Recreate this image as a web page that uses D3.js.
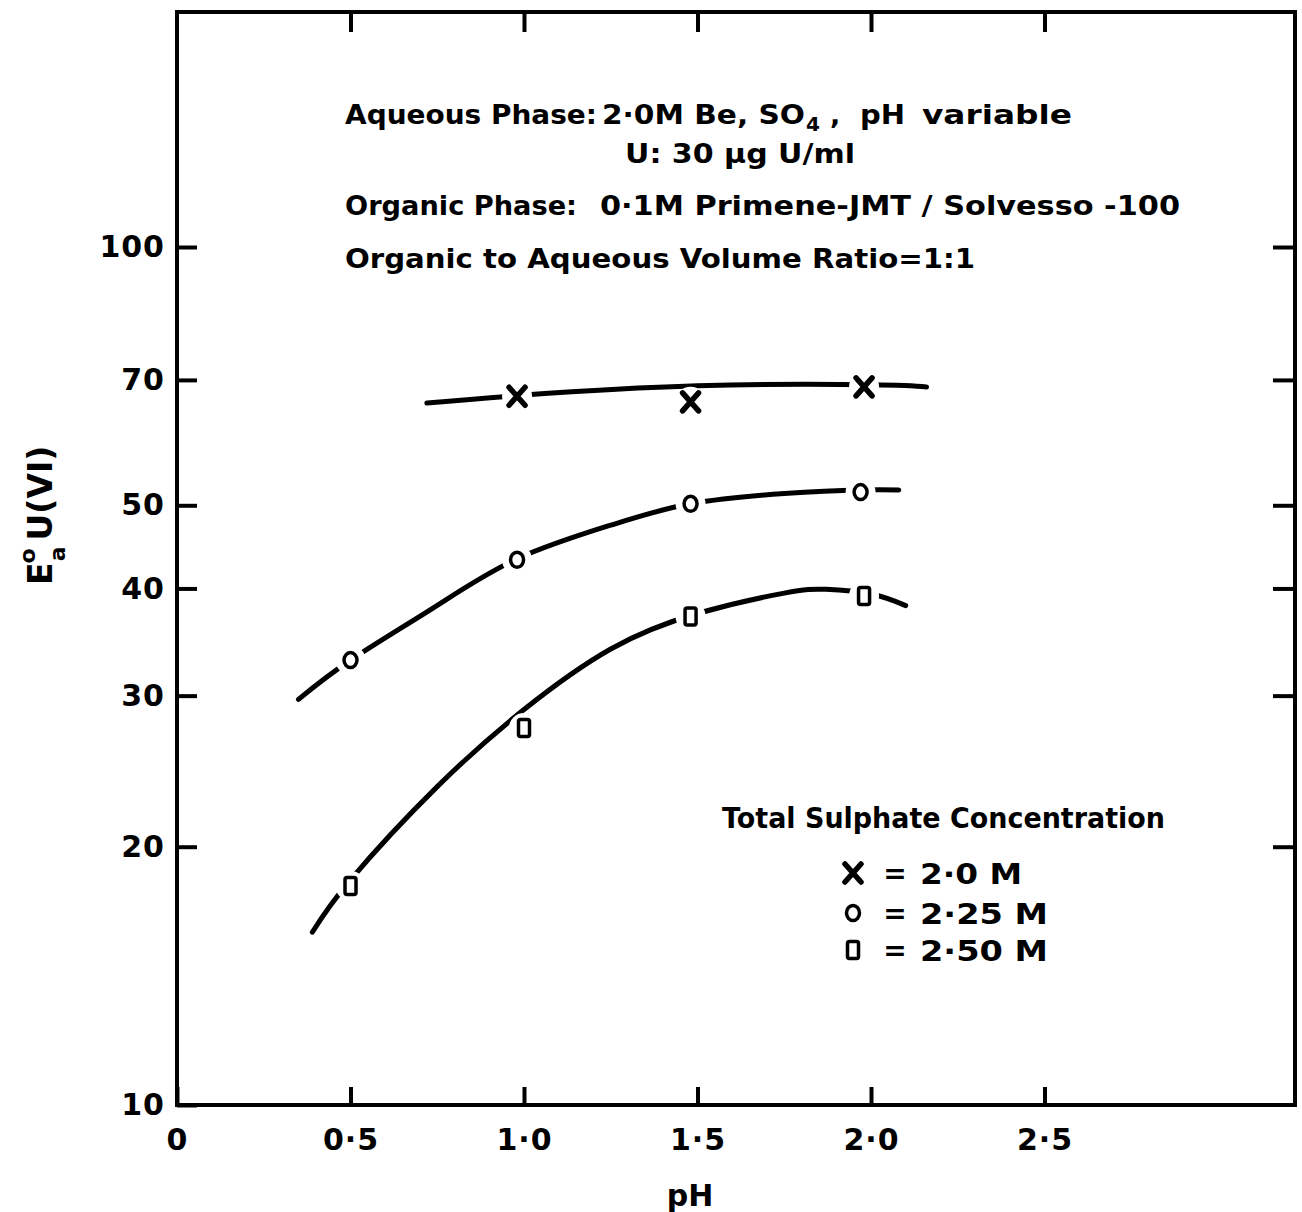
<!DOCTYPE html>
<html lang="en">
<head>
<meta charset="utf-8">
<title>Extraction of U(VI) vs pH</title>
<script src="https://d3js.org/d3.v7.min.js"></script>
<style type="text/css">
	body { margin: 0; background: #fff; }
	svg text {
		font-family: "DejaVu Sans", sans-serif;
		font-weight: bold;
		fill: #000;
	}
	.axis line { stroke: #000; stroke-width: 4; }
	.axis path { display: none; }
	.axis text { font-size: 30px; letter-spacing: 1px; }
	.curve { fill: none; stroke: #000; stroke-width: 5; stroke-linecap: round; }
</style>
</head>
<body>
<script type="text/javascript">
// ---- data ----
// measured points (pH, E)
var ph_20M  = [0.98, 1.48, 1.98];
var e_20M   = [67.0, 66.0, 68.7];
var ph_225M = [0.50, 0.98, 1.48, 1.97];
var e_225M  = [33.0, 43.2, 50.2, 51.8];
var ph_250M = [0.50, 1.00, 1.48, 1.98];
var e_250M  = [18.0, 27.5, 37.1, 39.2];

// hand drawn smooth curves through the points
var curve_ph_20M  = [0.72, 1.0, 1.5, 2.0, 2.16];
var curve_e_20M   = [65.8, 67.2, 68.9, 69.1, 68.7];
var curve_ph_225M = [0.35, 0.5, 0.74, 0.98, 1.25, 1.48, 1.75, 1.97, 2.08];
var curve_e_225M  = [29.7, 33.0, 38.0, 43.3, 47.4, 50.2, 51.6, 52.1, 52.1];
var curve_ph_250M = [0.39, 0.5, 0.75, 1.0, 1.25, 1.5, 1.75, 1.87, 2.0, 2.1];
var curve_e_250M  = [15.9, 18.3, 23.5, 28.9, 34.0, 37.4, 39.5, 39.9, 39.4, 38.2];

// axis ticks
var x_ticks = [0, 0.5, 1.0, 1.5, 2.0, 2.5];
var x_tick_labels = ["0", "0·5", "1·0", "1·5", "2·0", "2·5"];
var y_ticks = [10, 20, 30, 40, 50, 70, 100];

// legend
var legend_labels = ["2·0 M", "2·25 M", "2·50 M"];
var legend_shapes = ["cross", "circle", "square"];

// ---- layout ----
var svg_width = 1302, svg_height = 1212;
var plot = {left: 177, right: 1295, top: 12, bottom: 1105};

var svg = d3.select("body").append("svg")
	.attr("width", svg_width)
	.attr("height", svg_height);

var xScale = d3.scaleLinear()
	.domain([0, (plot.right - plot.left) / 347])
	.range([plot.left, plot.right]);

var yScale = d3.scaleLog()
	.domain([10, 10 * Math.pow(10, (plot.bottom - plot.top) / 858)])
	.range([plot.bottom, plot.top]);

// axes, ticks pointing inward
svg.append("g").attr("class", "axis")
	.attr("transform", "translate(" + plot.left + ",0)")
	.call(d3.axisLeft(yScale).tickValues(y_ticks).tickSize(-20).tickPadding(12)
		.tickFormat(d3.format("d")));

svg.append("g").attr("class", "axis")
	.attr("transform", "translate(" + plot.right + ",0)")
	.call(d3.axisRight(yScale).tickValues(y_ticks.slice(1)).tickSize(-22).tickFormat(""));

svg.append("g").attr("class", "axis")
	.attr("transform", "translate(0," + plot.bottom + ")")
	.call(d3.axisBottom(xScale).tickValues(x_ticks).tickSize(-18).tickPadding(24)
		.tickFormat(function(d, i) { return x_tick_labels[i]; }));

svg.append("g").attr("class", "axis")
	.attr("transform", "translate(0," + plot.top + ")")
	.call(d3.axisTop(xScale).tickValues(x_ticks.slice(1)).tickSize(-20).tickFormat(""));

// frame
svg.append("rect")
	.attr("x", plot.left).attr("y", plot.top)
	.attr("width", plot.right - plot.left).attr("height", plot.bottom - plot.top)
	.attr("fill", "none").attr("stroke", "#000").attr("stroke-width", 4);

// ---- curves ----
var line = d3.line()
	.x(function(d) { return xScale(d[0]); })
	.y(function(d) { return yScale(d[1]); })
	.curve(d3.curveNatural);

function zip(a, b) { return a.map(function(v, i) { return [v, b[i]]; }); }

[[curve_ph_20M, curve_e_20M], [curve_ph_225M, curve_e_225M], [curve_ph_250M, curve_e_250M]]
	.forEach(function(c) {
		svg.append("path").attr("class", "curve").attr("d", line(zip(c[0], c[1])));
	});

// ---- markers ----
function drawMarker(g, shape) {
	if (shape == "cross") {
		g.append("path")
			.attr("d", "M-8,-9L8,9M-8,9L8,-9")
			.attr("stroke", "#000").attr("stroke-width", 5.5).attr("stroke-linecap", "round");
	} else if (shape == "circle") {
		g.append("ellipse").attr("rx", 6.5).attr("ry", 7.5)
			.attr("fill", "#fff").attr("stroke", "#000").attr("stroke-width", 3.5);
	} else {
		g.append("rect").attr("x", -5.5).attr("y", -8.5).attr("width", 11).attr("height", 17).attr("rx", 2)
			.attr("fill", "#fff").attr("stroke", "#000").attr("stroke-width", 3.5);
	}
}

var series = [
	{ph: ph_20M, e: e_20M, shape: "cross"},
	{ph: ph_225M, e: e_225M, shape: "circle"},
	{ph: ph_250M, e: e_250M, shape: "square"}
];

series.forEach(function(s) {
	var pts = svg.selectAll(null)
		.data(zip(s.ph, s.e))
		.enter().append("g")
		.attr("transform", function(d) { return "translate(" + xScale(d[0]) + "," + yScale(d[1]) + ")"; });
	// white halo breaks the curve around each point
	pts.append("circle").attr("r", 15).attr("fill", "#fff");
	pts.each(function() { drawMarker(d3.select(this), s.shape); });
});

// wide lettering: stretch glyphs to the measured width
function label(g, x, y, len, txt) {
	return g.append("text").attr("x", x).attr("y", y)
		.attr("textLength", len).attr("lengthAdjust", "spacingAndGlyphs")
		.text(txt);
}

// ---- annotation text ----
var note = svg.append("g").style("font-size", "27px");
label(note, 345, 124, 252, "Aqueous Phase:");
label(note, 602, 124, 203, "2·0M Be, SO");
note.append("text").attr("x", 806).attr("y", 131).style("font-size", "20px").text("4");
note.append("text").attr("x", 830).attr("y", 124).text(",");
label(note, 860, 124, 45, "pH");
label(note, 922, 124, 150, "variable");
label(note, 625, 163, 230, "U: 30 µg U/ml");
label(note, 345, 215, 232, "Organic Phase:");
label(note, 600, 215, 580, "0·1M Primene-JMT / Solvesso -100");
label(note, 345, 268, 630, "Organic to Aqueous Volume Ratio=1:1");

// ---- legend ----
var legend = svg.append("g").style("font-size", "28px");
label(legend, 722, 828, 443, "Total Sulphate Concentration");
var legend_y = [873, 913, 950];
var legend_w = [102, 128, 128];
legend_labels.forEach(function(lab, i) {
	var g = legend.append("g").attr("transform", "translate(853," + legend_y[i] + ")");
	drawMarker(g, legend_shapes[i]);
	legend.append("text").attr("x", 895).attr("y", legend_y[i] + 10).attr("text-anchor", "middle").text("=");
	label(legend, 920, legend_y[i] + 11, legend_w[i], lab);
});

// ---- axis titles ----
svg.append("text").attr("x", 690).attr("y", 1206).attr("text-anchor", "middle")
	.style("font-size", "30px").text("pH");

var ylab = svg.append("text")
	.attr("transform", "translate(52,585) rotate(-90)")
	.style("font-size", "33px");
ylab.append("tspan").text("E");
ylab.append("tspan").attr("dy", -17).attr("dx", -1).style("font-size", "22px").text("o");
ylab.append("tspan").attr("dy", 30).attr("dx", -13).style("font-size", "22px").text("a");
ylab.append("tspan").attr("dy", -13).attr("dx", 6).text("U(VI)");
</script>
</body>
</html>
